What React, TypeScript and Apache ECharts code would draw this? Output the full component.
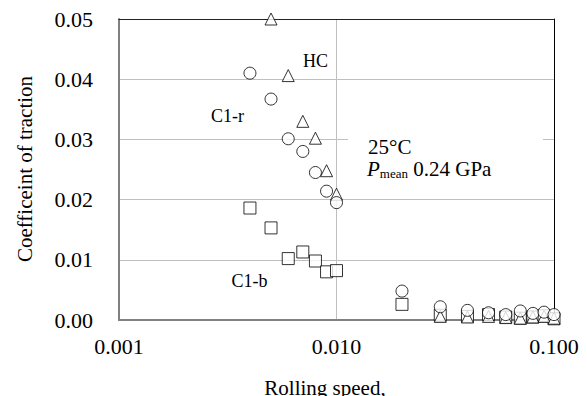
import React, { useEffect, useRef } from "react";
import * as echarts from "echarts";

const c1rX = [0.004, 0.005, 0.006, 0.007, 0.008, 0.009, 0.01, 0.02, 0.03, 0.04, 0.05, 0.06, 0.07, 0.08, 0.09, 0.1];
const c1rY = [0.041, 0.0367, 0.0301, 0.028, 0.0245, 0.0214, 0.0195, 0.0048, 0.0022, 0.0016, 0.0012, 0.0009, 0.0015, 0.0011, 0.0013, 0.0009];

const hcX = [0.005, 0.006, 0.007, 0.008, 0.009, 0.01, 0.03, 0.04, 0.05, 0.06, 0.07, 0.08, 0.09, 0.1];
const hcY = [0.05, 0.0406, 0.033, 0.0302, 0.0248, 0.0209, 0.0006, 0.0005, 0.0006, 0.0004, 0.0003, 0.0005, 0.0006, 0.0003];

const c1bX = [0.004, 0.005, 0.006, 0.007, 0.008, 0.009, 0.01, 0.02, 0.03, 0.04, 0.05, 0.06, 0.07, 0.08, 0.09, 0.1];
const c1bY = [0.0186, 0.0153, 0.0102, 0.0113, 0.0098, 0.008, 0.0082, 0.0026, 0.0008, 0.0006, 0.0009, 0.0005, 0.0003, 0.0005, 0.0007, 0.0002];

const xTicks = [0.001, 0.01, 0.1];
const yTicks = [0, 0.01, 0.02, 0.03, 0.04, 0.05];

const FONT = "Liberation Serif";

const zip = (xs: number[], ys: number[]) => xs.map((x, i) => [x, ys[i]]);

export default function App() {
  const ref = useRef<HTMLDivElement>(null);
  useEffect(() => {
    if (!ref.current) return;
    const chart = echarts.init(ref.current, undefined, { renderer: "svg" });
    const gray = "#808080";
    const grid = "#bfbfbf";
    chart.setOption({
      animation: false,
      backgroundColor: "#fff",
      textStyle: { fontFamily: FONT },
      grid: { left: 119, right: 33, top: 19, bottom: 76, containLabel: false },
      xAxis: [
        {
          type: "log",
          logBase: 10,
          min: xTicks[0],
          max: xTicks[xTicks.length - 1],
          axisLine: { show: true, lineStyle: { color: gray, width: 2 } },
          axisTick: { show: false },
          axisLabel: {
            formatter: (v: number) => v.toFixed(3),
            fontFamily: FONT,
            fontSize: 22,
            color: "#000",
            margin: 15,
          },
          splitLine: { show: true, lineStyle: { color: grid, width: 1 } },
        },
        {
          type: "log",
          logBase: 10,
          position: "top",
          min: xTicks[0],
          max: xTicks[xTicks.length - 1],
          axisLine: { show: true, onZero: false, lineStyle: { color: "#222", width: 1 } },
          axisTick: { show: false },
          axisLabel: { show: false },
          splitLine: { show: false },
        },
      ],
      yAxis: [
        {
          type: "value",
          min: yTicks[0],
          max: yTicks[yTicks.length - 1],
          interval: 0.01,
          axisLine: { show: true, lineStyle: { color: gray, width: 2 } },
          axisTick: { show: false },
          axisLabel: {
            formatter: (v: number) => v.toFixed(2),
            fontFamily: FONT,
            fontSize: 22,
            color: "#000",
            margin: 26,
          },
          splitLine: { show: true, lineStyle: { color: grid, width: 1 } },
        },
        {
          type: "value",
          position: "right",
          min: yTicks[0],
          max: yTicks[yTicks.length - 1],
          interval: 0.01,
          axisLine: { show: true, onZero: false, lineStyle: { color: "#000", width: 1 } },
          axisTick: { show: false },
          axisLabel: { show: false },
          splitLine: { show: false },
        },
      ],
      series: [
        {
          type: "scatter",
          name: "C1-b",
          data: zip(c1bX, c1bY),
          symbol: "rect",
          symbolSize: 12,
          clip: false,
          itemStyle: { color: "#fff", borderColor: "#000", borderWidth: 1 },
        },
        {
          type: "scatter",
          name: "HC",
          data: zip(hcX, hcY),
          symbol: "triangle",
          symbolSize: 12,
          clip: false,
          itemStyle: { color: "#fff", borderColor: "#000", borderWidth: 1 },
        },
        {
          type: "scatter",
          name: "C1-r",
          data: zip(c1rX, c1rY),
          symbol: "circle",
          symbolSize: 12,
          clip: false,
          itemStyle: { color: "#fff", borderColor: "#000", borderWidth: 1 },
        },
      ],
      graphic: [
        { type: "rect", shape: { x: 348, y: 128, width: 195, height: 52 }, style: { fill: "#fff" }, z: 5 },
        {
          type: "text",
          x: 25,
          y: 169,
          rotation: Math.PI / 2,
          z: 6,
          style: {
            text: "Coefficeint of traction",
            fontFamily: FONT,
            fontSize: 21,
            fill: "#000",
            textAlign: "center",
            textVerticalAlign: "middle",
          },
        },
        {
          type: "text",
          x: 368,
          y: 147,
          z: 6,
          style: { text: "25°C", fontFamily: FONT, fontSize: 21, fill: "#000", textVerticalAlign: "middle" },
        },
        {
          type: "text",
          x: 367,
          y: 169,
          z: 6,
          style: {
            text: "{i|P}{s|mean}{n| 0.24 GPa}",
            fill: "#000",
            textVerticalAlign: "middle",
            rich: {
              i: { fontFamily: FONT, fontSize: 21, fontStyle: "italic", verticalAlign: "bottom", lineHeight: 21 },
              s: { fontFamily: FONT, fontSize: 13, verticalAlign: "bottom", lineHeight: 21 },
              n: { fontFamily: FONT, fontSize: 21, verticalAlign: "bottom", lineHeight: 21 },
            },
            fontFamily: FONT,
            fontSize: 21,
          },
        },
        {
          type: "text",
          x: 315.5,
          y: 61,
          z: 6,
          style: { text: "HC", fontFamily: FONT, fontSize: 18, fill: "#000", textAlign: "center", textVerticalAlign: "middle" },
        },
        {
          type: "text",
          x: 227.5,
          y: 116,
          z: 6,
          style: { text: "C1-r", fontFamily: FONT, fontSize: 18, fill: "#000", textAlign: "center", textVerticalAlign: "middle" },
        },
        {
          type: "text",
          x: 249.5,
          y: 281,
          z: 6,
          style: { text: "C1-b", fontFamily: FONT, fontSize: 18, fill: "#000", textAlign: "center", textVerticalAlign: "middle" },
        },
        {
          type: "text",
          x: 325,
          y: 388,
          z: 6,
          style: { text: "Rolling speed,", fontFamily: FONT, fontSize: 21, fill: "#000", textAlign: "center", textVerticalAlign: "middle" },
        },
      ],
    });
    return () => chart.dispose();
  }, []);
  return <div ref={ref} style={{ width: 587, height: 396, position: "absolute", left: 0, top: 0 }} />;
}
